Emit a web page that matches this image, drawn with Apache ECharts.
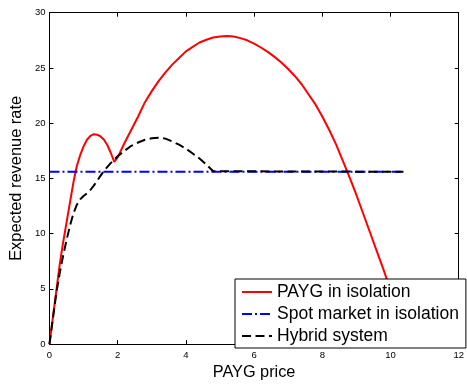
<!DOCTYPE html>
<html>
<head>
<meta charset="utf-8">
<script src="https://cdn.jsdelivr.net/npm/echarts@6/dist/echarts.min.js"></script>
<style>
html,body{margin:0;padding:0;background:#fff;}
#c{width:467px;height:386px;}
</style>
</head>
<body>
<div id="c"></div>
<script>
const seriesNames = ['PAYG in isolation', 'Spot market in isolation', 'Hybrid system'];
const xTicks = [0, 2, 4, 6, 8, 10, 12];
const yTicks = [0, 5, 10, 15, 20, 25, 30];

const paygX = [0, 0.1, 0.2, 0.3, 0.4, 0.5, 0.6, 0.7, 0.8, 0.9, 1.0, 1.1, 1.2, 1.3, 1.4, 1.5, 1.6, 1.7, 1.8, 1.9,
  2.0, 2.2, 2.4, 2.6, 2.8, 3.0, 3.2, 3.4, 3.6, 3.8, 4.0, 4.2, 4.4, 4.6, 4.8, 5.0, 5.2, 5.4, 5.6, 5.8, 6.0,
  6.2, 6.4, 6.6, 6.8, 7.0, 7.2, 7.4, 7.6, 7.8, 8.0, 8.2, 8.4, 8.6, 8.8, 9.0, 9.2, 9.4, 9.6, 9.8, 10.0, 10.2, 10.4, 10.5];
const paygY = [0, 2.4, 4.8, 7.2, 9.2, 11.0, 12.8, 14.6, 16.1, 17.1, 17.9, 18.5, 18.85, 19.0, 18.95, 18.8, 18.5, 18.0, 17.3, 16.5,
  16.9, 18.2, 19.4, 20.6, 21.9, 22.9, 23.8, 24.6, 25.3, 25.9, 26.5, 26.9, 27.3, 27.55, 27.75, 27.85, 27.9, 27.85, 27.7, 27.5, 27.2,
  26.85, 26.45, 26.0, 25.5, 24.9, 24.25, 23.5, 22.6, 21.7, 20.6, 19.4, 18.1, 16.6, 15.1, 13.5, 11.8, 10.1, 8.4, 6.7, 4.9, 3.1, 1.2, 0.3];

const spotX = [0, 10.38];
const spotY = [15.6, 15.6];

const hybridX = [0, 0.1, 0.2, 0.3, 0.4, 0.5, 0.6, 0.7, 0.8, 0.9, 1.0, 1.1, 1.2, 1.3, 1.4, 1.5, 1.6, 1.8, 2.0, 2.2, 2.4, 2.6, 2.8,
  3.0, 3.2, 3.4, 3.6, 3.8, 4.0, 4.2, 4.4, 4.6, 4.8, 4.85, 10.38];
const hybridY = [0, 2.3, 4.6, 6.4, 8.0, 9.4, 10.7, 11.8, 12.6, 13.1, 13.4, 13.65, 13.95, 14.35, 14.8, 15.25, 15.7, 16.4, 17.0, 17.5, 17.95, 18.25, 18.5,
  18.63, 18.68, 18.6, 18.35, 18.05, 17.7, 17.25, 16.8, 16.25, 15.65, 15.6, 15.6];

const zip = (xs, ys) => xs.map((x, i) => [x, ys[i]]);

const font = "'Liberation Sans', Arial, Helvetica, sans-serif";
const axisCommon = {
  type: 'value',
  axisLine: { show: true, onZero: false, lineStyle: { color: '#000', width: 1 } },
  axisTick: { show: true, inside: true, length: 4, lineStyle: { color: '#000' } },
  splitLine: { show: false },
  axisLabel: { color: '#000', fontSize: 9.5, fontFamily: font }
};

const chart = echarts.init(document.getElementById('c'), null, { renderer: 'canvas' });
chart.setOption({
  animation: false,
  backgroundColor: '#fff',
  grid: { left: 45, right: 2, top: 12.7, bottom: 37 },
  xAxis: [
    Object.assign({}, axisCommon, {
      position: 'bottom', min: xTicks[0], max: xTicks[xTicks.length - 1], interval: xTicks[1] - xTicks[0],
      name: 'PAYG price', nameLocation: 'middle', nameGap: 16,
      nameTextStyle: { color: '#000', fontSize: 16.3, fontFamily: font },
      axisLabel: { color: '#000', fontSize: 9.5, fontFamily: font, margin: 6 }
    }),
    Object.assign({}, axisCommon, {
      position: 'top', min: xTicks[0], max: xTicks[xTicks.length - 1], interval: xTicks[1] - xTicks[0],
      axisLabel: { show: false }
    })
  ],
  yAxis: [
    Object.assign({}, axisCommon, {
      position: 'left', min: yTicks[0], max: yTicks[yTicks.length - 1], interval: yTicks[1] - yTicks[0],
      name: 'Expected revenue rate', nameLocation: 'middle', nameGap: 21,
      nameTextStyle: { color: '#000', fontSize: 16.4, fontFamily: font },
      axisLabel: { color: '#000', fontSize: 9.5, fontFamily: font, margin: 4 }
    }),
    Object.assign({}, axisCommon, {
      position: 'right', min: yTicks[0], max: yTicks[yTicks.length - 1], interval: yTicks[1] - yTicks[0],
      axisLabel: { show: false }
    })
  ],
  legend: {
    orient: 'vertical',
    left: 235, top: 279,
    padding: [4, 7, 3, 6],
    itemGap: 4,
    itemWidth: 30, itemHeight: 14,
    backgroundColor: '#fff',
    borderColor: '#000', borderWidth: 1,
    itemStyle: { opacity: 0 },
    textStyle: { color: '#000', fontSize: 17.5, fontFamily: font },
    data: seriesNames
  },
  series: [
    {
      name: seriesNames[0], type: 'line', data: zip(paygX, paygY),
      showSymbol: false, symbol: 'none',
      lineStyle: { color: '#ff0000', width: 2 }, itemStyle: { color: '#ff0000' }
    },
    {
      name: seriesNames[1], type: 'line', data: zip(spotX, spotY),
      showSymbol: false, symbol: 'none',
      lineStyle: { color: '#0000ff', width: 2, type: [10, 3, 2, 3] }, itemStyle: { color: '#0000ff' }
    },
    {
      name: seriesNames[2], type: 'line', data: zip(hybridX, hybridY),
      showSymbol: false, symbol: 'none',
      lineStyle: { color: '#000', width: 2, type: [9, 4.5] }, itemStyle: { color: '#000' }
    }
  ]
});
</script>
</body>
</html>
